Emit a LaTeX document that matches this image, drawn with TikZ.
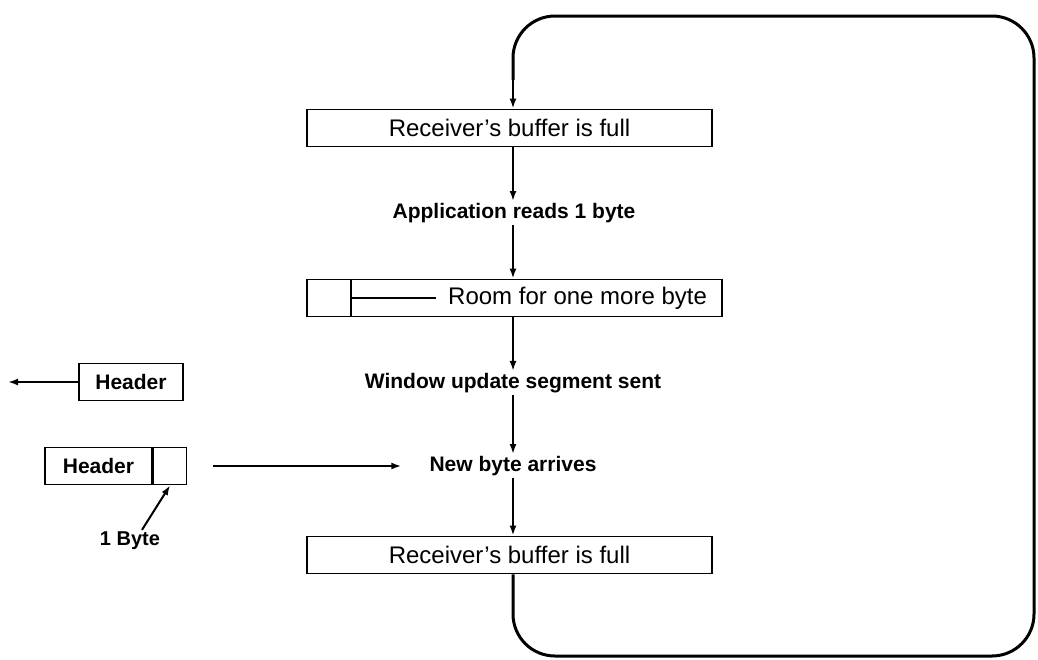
\documentclass[tikz,border=0pt]{standalone}
\usepackage{fontspec}
\setmainfont{Liberation Sans}
\usetikzlibrary{arrows.meta}
\begin{document}
\begin{tikzpicture}[x=1pt,y=-1pt,
  boxtxt/.style={font=\fontsize{24}{28}\selectfont},
  lbl/.style={font=\fontsize{21}{25}\selectfont\bfseries, inner sep=2pt},
  bufbox/.style={draw, line width=1.8pt, minimum height=37pt, inner sep=0pt, boxtxt},
  hdrbox/.style={draw, line width=1.6pt, minimum height=37pt, inner sep=0pt, font=\fontsize{21}{25}\selectfont\bfseries},
  arr/.style={line width=2pt, -{Latex[length=10pt,width=7pt]}},
  loopline/.style={line width=3pt, rounded corners=42pt}
]
\useasboundingbox (0,0) rectangle (1038,659);
\coordinate (col) at (513,0);

% right column
\node[bufbox, minimum width=405pt] (b1) at (509.5,128) {Receiver’s buffer is full};
\node[lbl] (app) at (514,213) {Application reads 1 byte};
\node[bufbox, minimum width=415pt] (b2) at (514.5,298) {};
\node[boxtxt, anchor=west, inner sep=0pt] (room) at (448,298) {Room for one more byte};
\coordinate (div) at (351,298);
\node[lbl] (win) at (513,383) {Window update segment sent};
\node[lbl] (nb) at (513,466) {New byte arrives};
\node[bufbox, minimum width=405pt] (b3) at (509.5,555) {Receiver’s buffer is full};

\draw[line width=1.8pt] (div |- b2.north) -- (div |- b2.south);
\draw[line width=1.6pt] (div) -- ([xshift=-12pt]room.west);

\draw[arr] (b1.south -| col) -- (app.north -| col);
\draw[arr] (app.south -| col) -- (b2.north -| col);
\draw[arr] (b2.south -| col) -- (win.north -| col);
\draw[arr] (win.south -| col) -- (nb.north -| col);
\draw[arr] (nb.south -| col) -- (b3.north -| col);

% loop
\draw[loopline] (b3.south -| col) -- (513,656) -- (1034,656) -- (1034,16) -- (513,16) -- (513,80);
\draw[arr, line width=2.6pt] (513,78) -- (b1.north -| col);

% left side
\node[hdrbox, minimum width=104pt] (h1) at (131,382) {Header};
\coordinate (away) at (8,382);
\draw[arr] (h1.west) -- (away);

\node[hdrbox, minimum width=107pt] (h2) at (98.5,466) {Header};
\node[hdrbox, minimum width=33pt, anchor=west] (cell) at (h2.east) {};
\coordinate (send) at (213,466);
\draw[arr] (send) -- ([xshift=-26pt]nb.west);

\node[lbl, font=\fontsize{20}{24}\selectfont\bfseries] (byte) at (130,541) {1 Byte};
\draw[arr] ([xshift=12pt]byte.north) -- (cell.south);
\end{tikzpicture}
\end{document}
